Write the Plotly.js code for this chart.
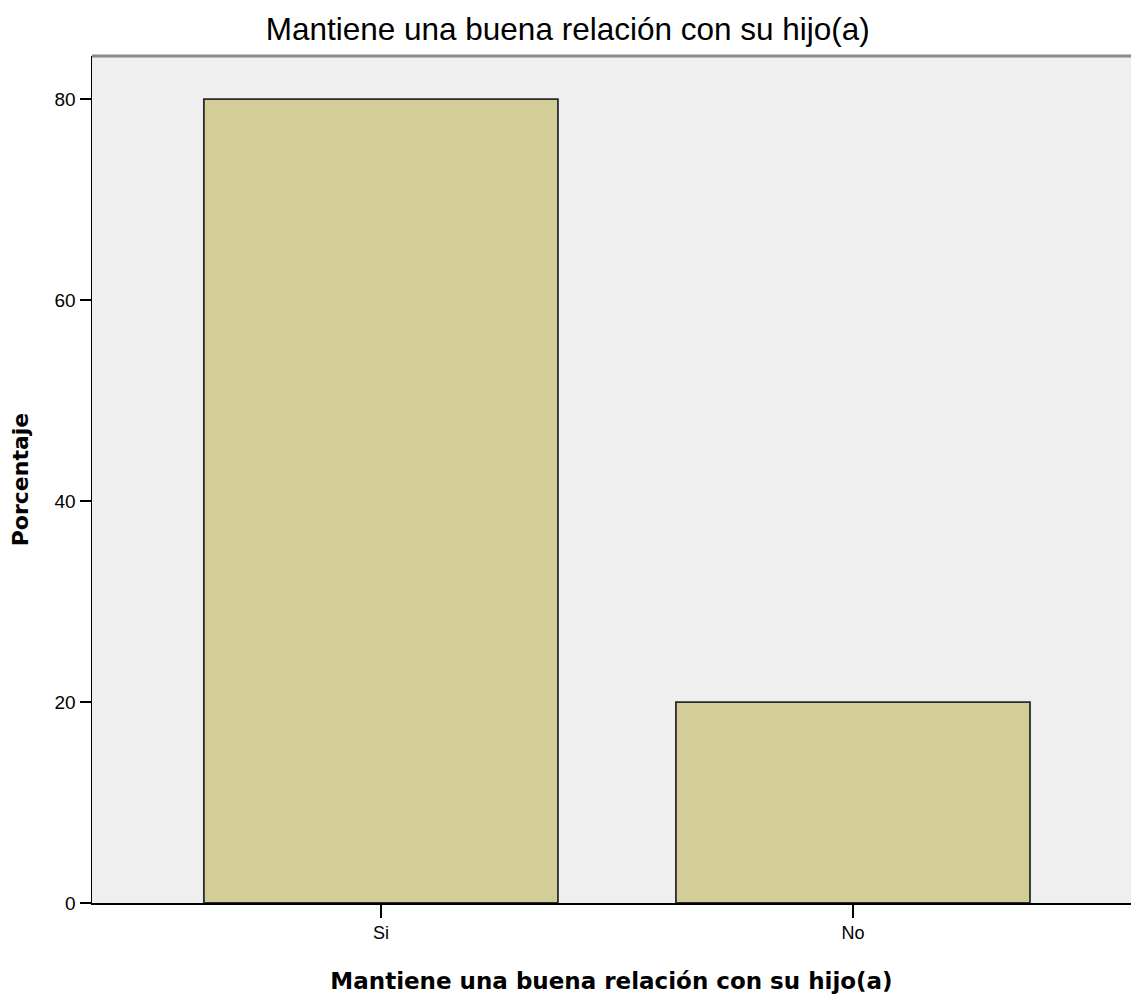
<!DOCTYPE html>
<html>
<head>
<meta charset="utf-8">
<script src="https://cdn.plot.ly/plotly-3.0.1.min.js"></script>
<style>html,body{margin:0;padding:0;background:#fff;}</style>
</head>
<body>
<div id="chart" style="width:1131px;height:997px;"></div>
<script>
const categories = ["Si", "No"];
const percentages = [80, 20];
const yTicks = [0, 20, 40, 60, 80];
const chartTitle = "Mantiene una buena relación con su hijo(a)";
const xTitle = "Mantiene una buena relación con su hijo(a)";
const yTitle = "Porcentaje";

const trace = {
  type: "bar",
  x: categories,
  y: percentages,
  width: 0.75,
  marker: { color: "#D3CE98", line: { color: "#2b2b2b", width: 1.8 } },
  hoverinfo: "x+y"
};

const layout = {
  width: 1131,
  height: 997,
  margin: { l: 92, r: 0, t: 56, b: 94 },
  paper_bgcolor: "#ffffff",
  plot_bgcolor: "#EFEFEF",
  showlegend: false,
  title: {
    text: chartTitle,
    font: { family: "Liberation Sans, Arial, sans-serif", size: 31.5, color: "#000" },
    xref: "container", x: 0.502, xanchor: "center",
    yref: "container", y: 0.971, yanchor: "middle"
  },
  xaxis: {
    type: "category",
    range: [-0.612, 1.589],
    showgrid: false, zeroline: false,
    showline: true, linecolor: "#000", linewidth: 1.5,
    ticks: "outside", ticklen: 13, tickwidth: 1.5, tickcolor: "#000",
    tickfont: { family: "Liberation Sans, Arial, sans-serif", size: 18, color: "#000" },
    title: { text: xTitle, font: { family: "DejaVu Sans, sans-serif", size: 23, color: "#000", weight: "bold" }, standoff: 31 },
    fixedrange: true
  },
  yaxis: {
    range: [0, 84.3],
    tickvals: yTicks,
    ticktext: yTicks.map(String),
    showgrid: false, zeroline: false,
    showline: true, linecolor: "#000", linewidth: 1.5,
    ticks: "outside", ticklen: 11, tickwidth: 1.5, tickcolor: "#000",
    tickfont: { family: "Liberation Sans, Arial, sans-serif", size: 19, color: "#000" },
    title: { text: yTitle, font: { family: "DejaVu Sans, sans-serif", size: 22, color: "#000", weight: "bold" }, standoff: 20 },
    fixedrange: true
  },
  shapes: [
    { type: "line", xref: "paper", yref: "paper", x0: 0, x1: 1, y0: 1, y1: 1,
      line: { color: "#8a8a8a", width: 3 } }
  ]
};

Plotly.newPlot("chart", [trace], layout, { displayModeBar: false, staticPlot: true });
</script>
</body>
</html>
